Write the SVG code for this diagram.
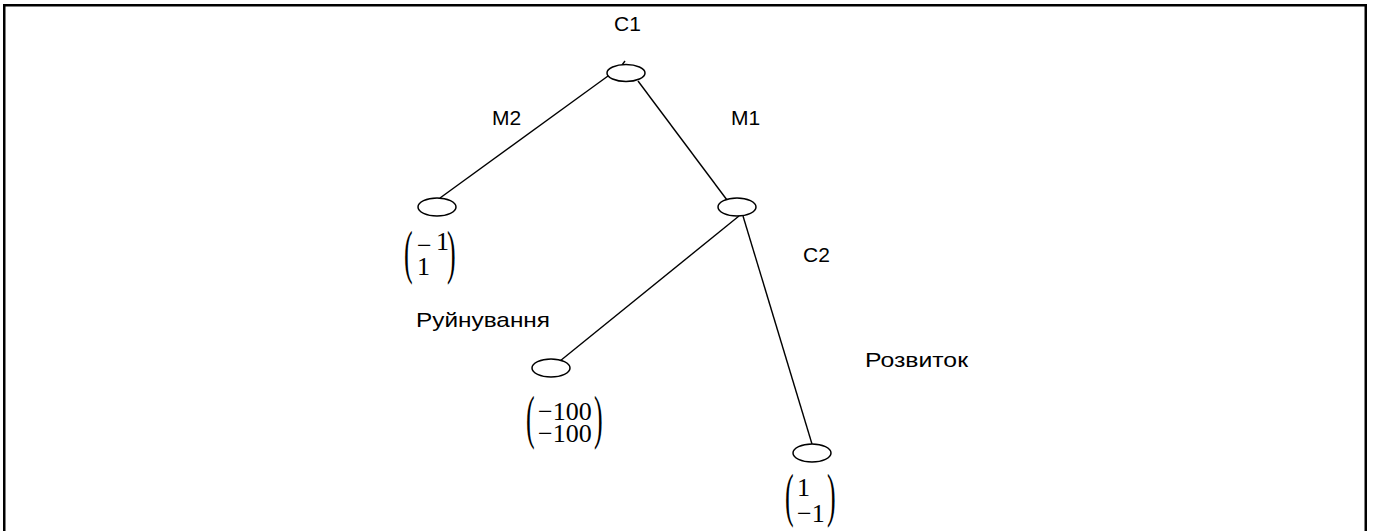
<svg xmlns="http://www.w3.org/2000/svg" width="1373" height="531" viewBox="0 0 1373 531">
<style>
.lbl{font-family:"Liberation Sans",Arial,sans-serif;font-size:21px;fill:#000}
.m{font-family:"Liberation Serif","Times New Roman",serif;font-size:26px;fill:#000}
.node{fill:#fff;stroke:#000;stroke-width:1.5}
.edge{stroke:#000;stroke-width:1.4;fill:none}
</style>
<rect x="4.25" y="5.25" width="1361.5" height="600" fill="#fff" stroke="#000" stroke-width="2.5"/>
<g id="connectors">
<line class="edge" x1="622" y1="65" x2="625" y2="61"/>
<line class="edge" x1="608" y1="76" x2="440" y2="198"/>
<line class="edge" x1="638" y1="81" x2="727" y2="200"/>
<line class="edge" x1="739" y1="216" x2="560" y2="361"/>
<line class="edge" x1="743" y1="216" x2="812" y2="444"/>
</g>
<g id="C1">
<ellipse class="node" cx="626" cy="73" rx="19" ry="8.5"/>
<text class="lbl" x="614" y="31">C1</text>
</g>
<g id="M2leaf">
<ellipse class="node" cx="437" cy="207" rx="19" ry="9"/>
<text class="m" transform="translate(404,271.5) scale(1,2.3)">(</text>
<text class="m" x="417" y="254">−</text>
<text class="m" x="436" y="250">1</text>
<text class="m" x="417" y="275">1</text>
<text class="m" transform="translate(447,271.5) scale(1,2.3)">)</text>
</g>
<g id="C2">
<ellipse class="node" cx="737" cy="207" rx="19" ry="9"/>
</g>
<g id="ruin">
<ellipse class="node" cx="551" cy="368" rx="19" ry="9"/>
<text class="m" transform="translate(526,436.5) scale(1,2.3)">(</text>
<text class="m" x="538" y="420">−100</text>
<text class="m" x="538" y="442">−100</text>
<text class="m" transform="translate(594,436.5) scale(1,2.3)">)</text>
</g>
<g id="dev">
<ellipse class="node" cx="812" cy="453" rx="19" ry="9"/>
<text class="m" transform="translate(785,514.5) scale(1,2.3)">(</text>
<text class="m" x="797" y="496">1</text>
<text class="m" x="797" y="522">−1</text>
<text class="m" transform="translate(827,514.5) scale(1,2.3)">)</text>
</g>
<g id="labels">
<text class="lbl" x="492" y="125">M2</text>
<text class="lbl" x="731" y="125">M1</text>
<text class="lbl" x="803" y="262">C2</text>
<text class="lbl" x="416" y="327" textLength="134" lengthAdjust="spacingAndGlyphs">Руйнування</text>
<text class="lbl" x="865" y="367" textLength="103" lengthAdjust="spacingAndGlyphs">Розвиток</text>
</g>
</svg>
